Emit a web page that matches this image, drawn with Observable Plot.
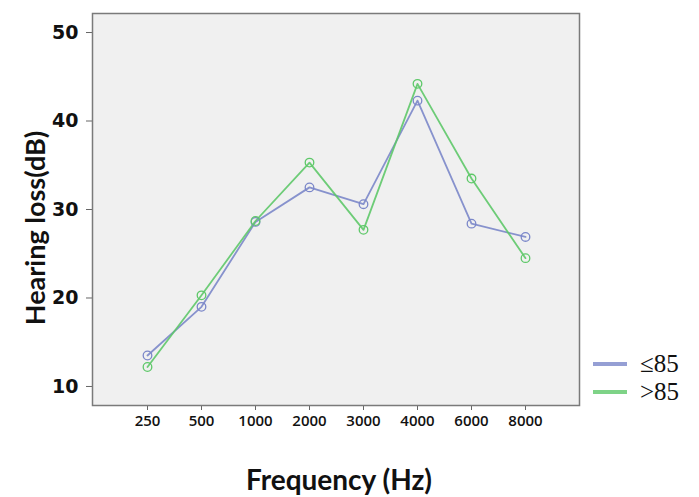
<!DOCTYPE html>
<html>
<head>
<meta charset="utf-8">
<script src="https://cdn.jsdelivr.net/npm/d3@7"></script>
<script src="https://cdn.jsdelivr.net/npm/@observablehq/plot@0.6"></script>
<style>
  html, body { margin: 0; padding: 0; background: #fff; }
  #wrap { position: relative; width: 699px; height: 497px; }
  #legend { position: absolute; left: 593px; top: 350px; font-family: "Liberation Serif", serif; font-size: 25px; color: #111; }
  .item { display: flex; align-items: center; height: 28px; }
  .sw { width: 34px; height: 4px; margin-right: 13px; }
</style>
</head>
<body>
<div id="wrap"></div>
<script>
const frequencies = ["250", "500", "1000", "2000", "3000", "4000", "6000", "8000"];
const groups = ["≤85", ">85"];
const lowGroup = [13.5, 19.0, 28.6, 32.5, 30.6, 42.3, 28.4, 26.9];
const highGroup = [12.2, 20.3, 28.7, 35.3, 27.7, 44.2, 33.5, 24.5];
const colors = ["#7b87c9", "#5ec869"];
const yTicks = [10, 20, 30, 40, 50];

const rows = [];
frequencies.forEach((f, i) => {
  rows.push({freq: f, value: lowGroup[i], group: groups[0]});
  rows.push({freq: f, value: highGroup[i], group: groups[1]});
});

const chart = Plot.plot({
  width: 699,
  height: 497,
  marginLeft: 92,
  marginRight: 120,
  marginTop: 13,
  marginBottom: 92,
  style: {background: "transparent", overflow: "visible"},
  x: {type: "point", domain: frequencies, padding: 0.95, label: null},
  y: {domain: [7.85, 52.15], label: null},
  color: {domain: groups, range: colors},
  marks: [
    Plot.frame({fill: "#f0f0f0", stroke: null}),
    Plot.axisY({ticks: yTicks, tickSize: 6, tickPadding: 8, stroke: "#666",
      fontSize: 19, fontWeight: "bold", fontFamily: "DejaVu Sans", fill: "#111", label: null}),
    Plot.axisX({tickSize: 5, tickPadding: 5, stroke: "#666",
      fontSize: 15, fontWeight: "600", fontFamily: "Open Sans", fill: "#111", label: null}),
    Plot.line(rows, {x: "freq", y: "value", z: "group", stroke: "group", strokeWidth: 1.8, strokeOpacity: 0.9}),
    Plot.dot(rows, {x: "freq", y: "value", stroke: "group", r: 4.3, strokeWidth: 1.3, fill: "none"}),
    Plot.frame({stroke: "#7a7a7a", strokeWidth: 1.5}),
    Plot.text(["Frequency (Hz)"], {frameAnchor: "bottom", lineAnchor: "middle", textAnchor: "middle", dy: 76, dx: 3,
      fontSize: 28, fontWeight: "bold", fontFamily: "Lato", fill: "#111"}),
    Plot.text(["Hearing loss(dB)"], {frameAnchor: "left", lineAnchor: "middle", textAnchor: "middle", dx: -56, dy: 18.5, rotate: -90,
      fontSize: 27, fontWeight: "bold", fontFamily: "Lato", fill: "#111"})
  ]
});

const wrap = document.getElementById("wrap");
wrap.appendChild(chart);

const legend = document.createElement("div");
legend.id = "legend";
groups.forEach((g, i) => {
  const item = document.createElement("div");
  item.className = "item";
  const sw = document.createElement("span");
  sw.className = "sw";
  sw.style.background = colors[i];
  sw.style.opacity = 0.8;
  const t = document.createElement("span");
  t.textContent = g;
  item.appendChild(sw);
  item.appendChild(t);
  legend.appendChild(item);
});
wrap.appendChild(legend);
</script>
</body>
</html>
